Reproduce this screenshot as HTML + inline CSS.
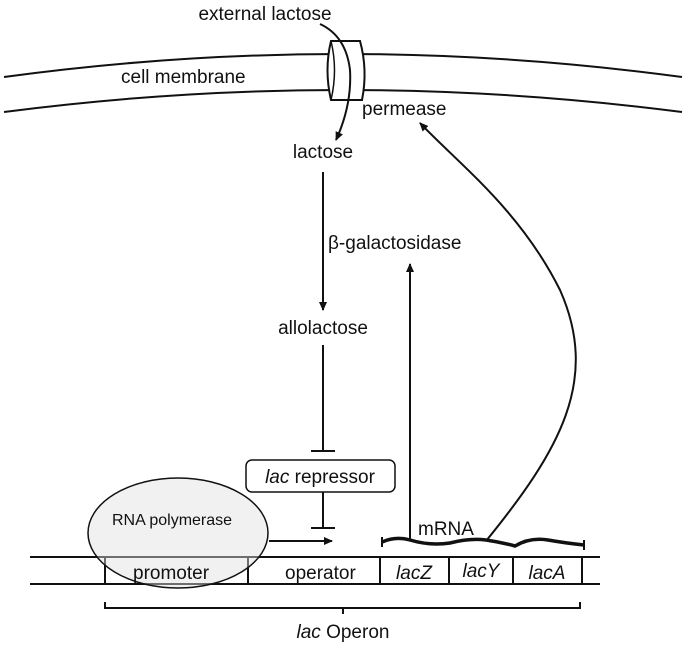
<!DOCTYPE html>
<html><head><style>
body{margin:0;background:#fff}
svg{display:block}
text{font-family:"Liberation Sans","DejaVu Sans",sans-serif;fill:#111}
</style></head><body>
<svg width="685" height="646" viewBox="0 0 685 646">
<defs>
<marker id="ah" markerWidth="10" markerHeight="10" refX="8" refY="5" orient="auto" markerUnits="userSpaceOnUse">
<path d="M0,1 L9,5 L0,9 Z" fill="#111"/></marker>
</defs>
<g stroke="#111" stroke-width="2" fill="none">
<path d="M4,77 Q342,31 682,77"/>
<path d="M4,112 Q342,68 682,112"/>
</g>
<path d="M331,41 L360,41 Q368,70 362,100 L331,100 Q324,70 331,41 Z" fill="#fff" stroke="#111" stroke-width="2"/>
<path d="M331,41 Q338,70 331,100" fill="none" stroke="#111" stroke-width="1.5"/>
<g stroke="#111" stroke-width="2" fill="none">
<path d="M320,24 Q346,36 350,70 Q352,105 336,140" marker-end="url(#ah)"/>
</g>
<text x="265" y="20" font-size="19" text-anchor="middle">external lactose</text>
<text x="121" y="83" font-size="19">cell  membrane</text>
<text x="362" y="115" font-size="19">permease</text>
<text x="323" y="158" font-size="19" text-anchor="middle">lactose</text>
<g stroke="#111" stroke-width="2" fill="none">
<line x1="323" y1="172" x2="323" y2="310" marker-end="url(#ah)"/>
<line x1="323" y1="345" x2="323" y2="451"/>
<line x1="311" y1="451" x2="335" y2="451"/>
<line x1="323" y1="492" x2="323" y2="528"/>
<line x1="311" y1="528" x2="335" y2="528"/>
<line x1="269" y1="541" x2="332" y2="541" marker-end="url(#ah)"/>
<line x1="410" y1="540" x2="410" y2="264" marker-end="url(#ah)"/>
<path d="M486,541 C560,450 600,380 560,290 C520,210 460,165 420,123" marker-end="url(#ah)"/>
</g>
<text x="328" y="249" font-size="19">β-galactosidase</text>
<text x="323" y="334" font-size="19" text-anchor="middle">allolactose</text>
<rect x="246" y="460" width="149" height="32" rx="6" fill="#fff" stroke="#111" stroke-width="1.5"/>
<text x="320" y="483" font-size="19" text-anchor="middle"><tspan font-style="italic">lac</tspan> repressor</text>
<text x="418" y="535" font-size="19">mRNA</text>
<path d="M382,542 Q396,536 410,540 Q430,546 450,543 Q470,538 486,540 Q500,542 515,546 Q530,537 548,540 Q565,543 584,545" fill="none" stroke="#111" stroke-width="3.5"/>
<g stroke="#111" stroke-width="2">
<line x1="382" y1="537" x2="382" y2="547"/><line x1="584" y1="540" x2="584" y2="550"/>
<line x1="30" y1="557" x2="600" y2="557"/>
<line x1="30" y1="584" x2="600" y2="584"/>
<line x1="105" y1="557" x2="105" y2="584"/>
<line x1="248" y1="557" x2="248" y2="584"/>
<line x1="380" y1="557" x2="380" y2="584"/>
<line x1="449" y1="557" x2="449" y2="584"/>
<line x1="513" y1="557" x2="513" y2="584"/>
<line x1="582" y1="557" x2="582" y2="584"/>
</g>
<ellipse cx="178" cy="533" rx="90" ry="55" fill="rgba(225,225,225,0.45)" stroke="#111" stroke-width="1.5"/>
<text x="112" y="525" font-size="16">RNA polymerase</text>
<text x="133" y="579" font-size="19">promoter</text>
<text x="285" y="579" font-size="19">operator</text>
<text x="414" y="579" font-size="19" font-style="italic" text-anchor="middle">lacZ</text>
<text x="481" y="577" font-size="19" font-style="italic" text-anchor="middle">lacY</text>
<text x="547" y="579" font-size="19" font-style="italic" text-anchor="middle">lacA</text>
<path d="M105,602 L105,608 L580,608 L580,602 M343,608 L343,614" fill="none" stroke="#111" stroke-width="2"/>
<text x="343" y="638" font-size="19" text-anchor="middle"><tspan font-style="italic">lac</tspan> Operon</text>
</svg>
</body></html>
